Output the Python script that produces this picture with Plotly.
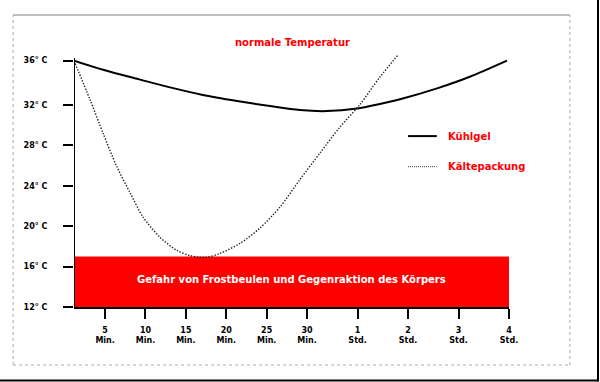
import plotly.graph_objects as go

# ---- data ----
x_tick_positions = [1, 2, 3, 4, 5, 6, 7.25, 8.5, 9.75, 11]
x_tick_labels = ["5<br>Min.", "10<br>Min.", "15<br>Min.", "20<br>Min.", "25<br>Min.",
                 "30<br>Min.", "1<br>Std.", "2<br>Std.", "3<br>Std.", "4<br>Std."]
y_tick_values = [12, 16, 20, 24, 28, 32, 36.4]
y_tick_labels = ["12° C", "16° C", "20° C", "24° C", "28° C", "32° C", "36° C"]

kuehlgel_x = [0.23, 0.95, 1.79, 2.61, 3.42, 4.27, 5.08, 5.82, 6.49, 7.24, 7.56, 8.37, 9.22, 10.03, 10.95]
kuehlgel_y = [36.4, 35.5, 34.6, 33.75, 33.0, 32.4, 31.9, 31.5, 31.4, 31.65, 31.9, 32.65, 33.65, 34.8, 36.4]

kaelte_x = [0.23, 0.63, 0.95, 1.29, 1.62, 1.94, 2.36, 2.78, 3.10, 3.47, 3.84, 4.34, 4.83,
            5.33, 5.82, 6.32, 6.81, 7.31, 7.80, 8.25]
kaelte_y = [36.4, 32.5, 29.2, 25.9, 23.3, 20.9, 18.9, 17.6, 17.1, 16.9, 17.3, 18.3, 19.8,
            21.9, 24.6, 27.25, 29.8, 32.05, 34.75, 36.95]

danger_low = 12
danger_high = 17
x_start, x_end = 0.23, 11
y_axis_top = 36.65

title_text = "normale Temperatur"
danger_text = "Gefahr von Frostbeulen und Gegenraktion des Körpers"
series_names = ["Kühlgel", "Kältepackung"]

FONT = "DejaVu Sans"
RED = "#ff0000"

fig = go.Figure()

fig.add_trace(go.Scatter(
    x=kuehlgel_x, y=kuehlgel_y, mode="lines", name=series_names[0],
    line=dict(color="black", width=2, shape="spline", smoothing=0.8),
    showlegend=False, hoverinfo="skip"))
fig.add_trace(go.Scatter(
    x=kaelte_x, y=kaelte_y, mode="lines", name=series_names[1],
    line=dict(color="#222222", width=1.4, dash="1.4px,1.6px", shape="spline", smoothing=0.8),
    showlegend=False, hoverinfo="skip"))

shapes = []
# danger band
shapes.append(dict(type="rect", xref="x", yref="y", x0=x_start, x1=x_end,
                   y0=danger_low, y1=danger_high, fillcolor=RED,
                   line=dict(width=0), layer="below"))
# y axis line
shapes.append(dict(type="line", xref="x", yref="y", x0=x_start, x1=x_start,
                   y0=danger_low, y1=y_axis_top, line=dict(color="black", width=2)))

# outer frame (paper coords)
fl, fr, fb, ft = -0.140, 1.140, -0.2257, 1.136
shapes.append(dict(type="line", xref="paper", yref="paper", x0=fl, x1=fr, y0=ft, y1=ft,
                   line=dict(color="#aaaaaa", width=1.5)))
for (a, b, c, d) in [(fl, fl, fb, ft), (fr, fr, fb, ft), (fl, fr, fb, fb)]:
    shapes.append(dict(type="line", xref="paper", yref="paper", x0=a, x1=b, y0=c, y1=d,
                       line=dict(color="#aaaaaa", width=1, dash="dot")))
# black border right / bottom
shapes.append(dict(type="line", xref="paper", yref="paper", x0=1.2046, x1=1.2046,
                   y0=-0.29, y1=1.25, line=dict(color="black", width=2)))
shapes.append(dict(type="line", xref="paper", yref="paper", x0=-0.2, x1=1.206,
                   y0=-0.2862, y1=-0.2862, line=dict(color="black", width=2)))

# legend samples
shapes.append(dict(type="line", xref="paper", yref="paper", x0=0.768, x1=0.834,
                   y0=0.665, y1=0.665, line=dict(color="black", width=2)))
shapes.append(dict(type="line", xref="paper", yref="paper", x0=0.768, x1=0.834,
                   y0=0.546, y1=0.546, line=dict(color="#333333", width=1, dash="1px,1px")))

annotations = [
    dict(text=title_text, xref="paper", yref="paper", x=0.502, y=1.058,
         showarrow=False, font=dict(family=FONT, size=10, color=RED, weight="bold")),
    dict(text=danger_text, xref="paper", yref="y", x=0.5, y=(danger_low + danger_high) / 2 + 0.25,
         showarrow=False, font=dict(family=FONT, size=10, color="white", weight="bold")),
    dict(text=series_names[0], xref="paper", yref="paper", x=0.855, y=0.665,
         xanchor="left", showarrow=False,
         font=dict(family=FONT, size=10, color=RED, weight="bold")),
    dict(text=series_names[1], xref="paper", yref="paper", x=0.855, y=0.546,
         xanchor="left", showarrow=False,
         font=dict(family=FONT, size=10, color=RED, weight="bold")),
]

fig.update_layout(
    width=600, height=382,
    margin=dict(l=74, r=91, t=50, b=75),
    paper_bgcolor="white", plot_bgcolor="white",
    shapes=shapes, annotations=annotations,
    showlegend=False,
    xaxis=dict(range=[x_start, x_end], tickmode="array", tickvals=x_tick_positions,
               ticktext=x_tick_labels, showgrid=False, zeroline=False,
               showline=True, linecolor="black", linewidth=2,
               ticks="outside", ticklen=10, tickwidth=2, tickcolor="black",
               ticklabelstandoff=4,
               tickfont=dict(family=FONT, size=8, color="black", weight="bold")),
    yaxis=dict(range=[12, 37.45], tickmode="array", tickvals=y_tick_values,
               ticktext=y_tick_labels, showgrid=False, zeroline=False,
               showline=False, ticks="outside", ticklen=10, tickwidth=2,
               tickcolor="black", ticklabelstandoff=14,
               tickfont=dict(family=FONT, size=8, color="black", weight="bold")),
)

fig.write_html("out.html", config={"displayModeBar": False},
               post_script="document.body.style.margin='0px';")
